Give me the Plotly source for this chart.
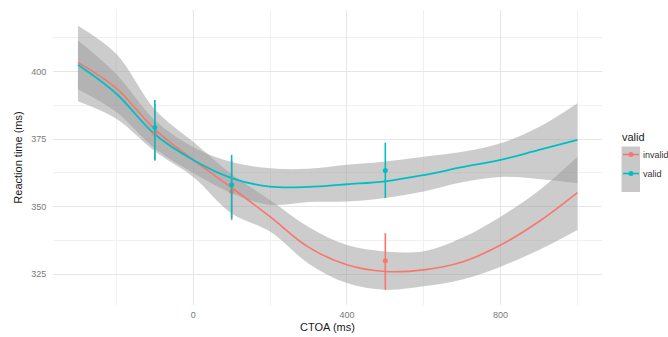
import plotly.graph_objects as go

# ---- data ----
ctoa_grid = [-300, -200, -100, 0, 100, 200, 300, 400, 500, 600, 700, 800, 900, 1000]

invalid_fit = [403.4, 393.8, 378.6, 367.3, 357.0, 346.3, 335.0, 328.5, 326.0, 326.6, 329.5, 335.8, 344.5, 355.2]
invalid_lo = [389.0, 382.5, 370.5, 361.0, 347.5, 340.8, 329.0, 321.7, 319.2, 320.5, 323.0, 327.8, 334.0, 341.4]
invalid_hi = [417.0, 406.5, 386.0, 374.0, 362.0, 352.5, 342.5, 335.8, 333.4, 333.5, 338.5, 346.3, 356.0, 368.5]

valid_fit = [402.5, 391.8, 376.8, 367.3, 360.6, 357.4, 357.3, 358.3, 359.4, 361.7, 364.6, 367.3, 371.0, 374.7]
valid_lo = [393.5, 385.0, 371.5, 362.5, 355.0, 350.7, 351.7, 351.9, 353.2, 355.6, 359.0, 361.0, 360.2, 358.7]
valid_hi = [411.5, 399.0, 382.0, 372.0, 366.5, 364.2, 364.0, 365.5, 366.7, 368.5, 370.3, 373.5, 379.5, 388.3]

ctoa_points = [-100, 100, 500]
invalid_mean = [377.2, 355.6, 330.0]
invalid_ymin = [367.0, 345.0, 319.2]
invalid_ymax = [388.0, 367.0, 340.2]
valid_mean = [379.3, 358.1, 363.4]
valid_ymin = [367.3, 345.7, 353.2]
valid_ymax = [389.5, 369.2, 373.7]

x_ticks = [0, 400, 800]
y_ticks = [325, 350, 375, 400]

RED = "#F8766D"
TEAL = "#00BFC4"
BAND = "rgba(153,153,153,0.5)"
FONT = "Liberation Sans, Arial, sans-serif"

fig = go.Figure()

# ribbons (lower edge, then upper edge filled down to it)
for lo, hi in [(invalid_lo, invalid_hi), (valid_lo, valid_hi)]:
    fig.add_trace(go.Scatter(
        x=ctoa_grid, y=lo, mode="lines",
        line=dict(width=0, shape="spline", color="rgba(0,0,0,0)"),
        showlegend=False, hoverinfo="skip"))
    fig.add_trace(go.Scatter(
        x=ctoa_grid, y=hi, mode="lines", fill="tonexty", fillcolor=BAND,
        line=dict(width=0, shape="spline", color="rgba(0,0,0,0)"),
        showlegend=False, hoverinfo="skip"))

# fitted lines
fig.add_trace(go.Scatter(x=ctoa_grid, y=invalid_fit, mode="lines",
                         line=dict(color=RED, width=1.6, shape="spline"),
                         showlegend=False))
fig.add_trace(go.Scatter(x=ctoa_grid, y=valid_fit, mode="lines",
                         line=dict(color=TEAL, width=1.8, shape="spline"),
                         showlegend=False))

# point ranges
for mean, ymin, ymax, col in [(invalid_mean, invalid_ymin, invalid_ymax, RED),
                              (valid_mean, valid_ymin, valid_ymax, TEAL)]:
    fig.add_trace(go.Scatter(
        x=ctoa_points, y=mean, mode="markers",
        marker=dict(color=col, size=5),
        error_y=dict(type="data", symmetric=False,
                     array=[a - m for a, m in zip(ymax, mean)],
                     arrayminus=[m - b for m, b in zip(mean, ymin)],
                     color=col, thickness=1.6, width=0),
        showlegend=False))

# ---- custom legend (ggplot-style key) ----
L, R_, T, B = 53, 602, 10, 305
def px(x):
    return (x - L) / (R_ - L)
def py(y):
    return (B - y) / (B - T)

shapes = [dict(type="rect", xref="paper", yref="paper",
               x0=px(621.5), x1=px(640), y0=py(192), y1=py(146.5),
               fillcolor="#c8c8c8", line=dict(width=0), layer="above")]
annotations = [dict(text="valid", xref="paper", yref="paper", x=px(619.5), y=py(137),
                    xanchor="left", yanchor="middle", showarrow=False,
                    font=dict(family=FONT, size=11, color="#1a1a1a"))]
for label, col, yk in [("invalid", RED, 154.5), ("valid", TEAL, 173.5)]:
    shapes.append(dict(type="line", xref="paper", yref="paper",
                       x0=px(623), x1=px(639), y0=py(yk), y1=py(yk),
                       line=dict(color=col, width=1.6), layer="above"))
    shapes.append(dict(type="circle", xref="paper", yref="paper",
                       xsizemode="pixel", ysizemode="pixel",
                       xanchor=px(631), yanchor=py(yk),
                       x0=-2.5, x1=2.5, y0=-2.5, y1=2.5,
                       fillcolor=col, line=dict(width=0), layer="above"))
    annotations.append(dict(text=label, xref="paper", yref="paper", x=px(641), y=py(yk),
                            xanchor="left", yanchor="middle", showarrow=False,
                            font=dict(family=FONT, size=9, color="#333333")))

fig.update_layout(
    width=668, height=337,
    margin=dict(l=L, r=668 - R_, t=T, b=337 - B),
    paper_bgcolor="white", plot_bgcolor="white",
    font=dict(family=FONT, size=9, color="#7a7a7a"),
    showlegend=False,
    shapes=shapes, annotations=annotations,
    xaxis=dict(range=[-365, 1064], tickvals=x_ticks, ticktext=[str(v) for v in x_ticks],
               automargin=False,
               showgrid=True, gridcolor="#e6e6e6", gridwidth=1,
               minor=dict(dtick=200, tick0=0, showgrid=True, gridcolor="#f0f0f0", gridwidth=0.8),
               zeroline=False, showline=False,
               ticks="outside", ticklen=1, tickcolor="rgba(0,0,0,0)",
               tickfont=dict(size=9, color="#7a7a7a"),
               title=dict(text="CTOA (ms)", standoff=4,
                          font=dict(size=11, color="#1a1a1a"))),
    yaxis=dict(range=[313.6, 422.8], tickvals=y_ticks, ticktext=[str(v) for v in y_ticks],
               automargin=False,
               showgrid=True, gridcolor="#e6e6e6", gridwidth=1,
               minor=dict(dtick=12.5, tick0=325, showgrid=True, gridcolor="#f0f0f0", gridwidth=0.8),
               zeroline=False, showline=False,
               ticks="outside", ticklen=4, tickcolor="rgba(0,0,0,0)",
               tickfont=dict(size=9, color="#7a7a7a"),
               title=dict(text="Reaction time (ms)", standoff=6,
                          font=dict(size=11, color="#1a1a1a"))),
)

fig.write_html("out.html")
